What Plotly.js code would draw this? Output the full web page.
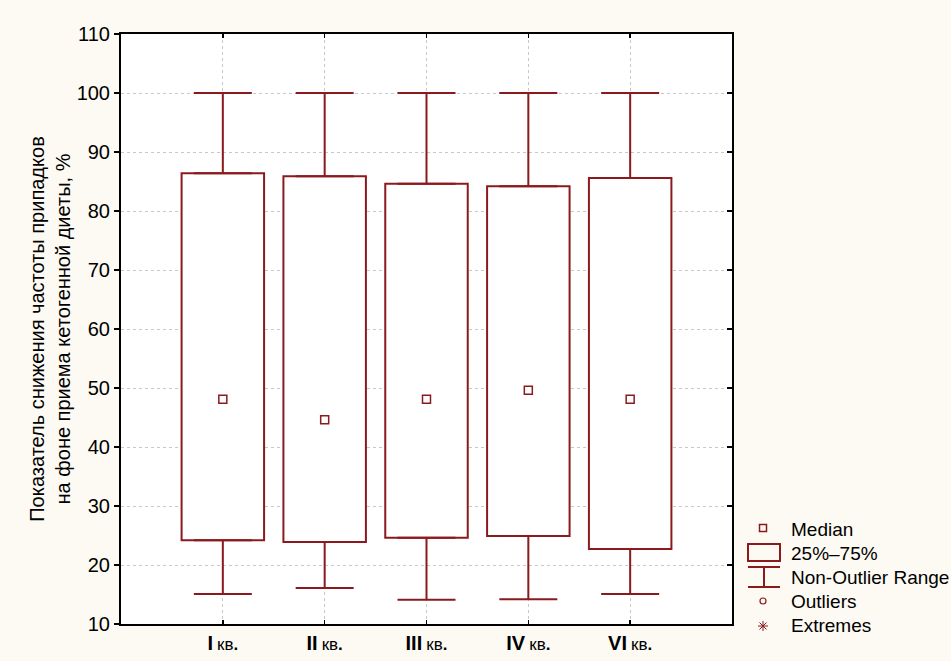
<!DOCTYPE html>
<html>
<head>
<meta charset="utf-8">
<script src="https://cdn.plot.ly/plotly-3.0.1.min.js"></script>
<style>html,body{margin:0;padding:0;background:#fcfaf2;}</style>
</head>
<body>
<div id="chart" style="width:951px;height:661px;"></div>
<script>
// ---- data ----
const categories = ["I кв.", "II кв.", "III кв.", "IV кв.", "VI кв."];
const romanLabels = ["I", "II", "III", "IV", "VI"];
const upperWhisker = [100, 100, 100, 100, 100];
const q3Values = [86.4, 85.9, 84.6, 84.2, 85.6];
const medianValues = [48.1, 44.6, 48.1, 49.6, 48.1];
const q1Values = [24.2, 23.9, 24.6, 24.9, 22.7];
const lowerWhisker = [15.1, 16.1, 14.1, 14.2, 15.1];
const legendLabels = ["Median", "25%–75%", "Non-Outlier Range", "Outliers", "Extremes"];

const RED = "#8b1a1e";
const FONT = "Liberation Sans, Arial, sans-serif";

const tickText = romanLabels.map(r => "<b>" + r + "</b>\u2009<span style='font-size:17px'>кв<b>.</b></span>");

const traces = [
  {
    type: "bar", x: categories, base: q1Values,
    y: q3Values.map((v, i) => v - q1Values[i]),
    width: 0.81,
    marker: {color: "#ffffff", line: {color: RED, width: 2}},
    hoverinfo: "skip", showlegend: false
  },
  {
    type: "scatter", mode: "markers", x: categories, y: q3Values,
    marker: {size: 0.1, opacity: 0},
    error_y: {type: "data", symmetric: false,
      array: upperWhisker.map((v, i) => v - q3Values[i]),
      arrayminus: q3Values.map(() => 0),
      width: 29, thickness: 2, color: RED},
    showlegend: false, hoverinfo: "skip"
  },
  {
    type: "scatter", mode: "markers", x: categories, y: q1Values,
    marker: {size: 0.1, opacity: 0},
    error_y: {type: "data", symmetric: false,
      array: q1Values.map(() => 0),
      arrayminus: q1Values.map((v, i) => v - lowerWhisker[i]),
      width: 29, thickness: 2, color: RED},
    showlegend: false, hoverinfo: "skip"
  },
  {
    type: "scatter", mode: "markers", x: categories, y: medianValues,
    marker: {symbol: "square-open", size: 8, color: RED, line: {width: 1.5, color: RED}},
    showlegend: false
  },
  {
    type: "scatter", mode: "markers", x: [], y: [], yaxis: "y2", showlegend: false
  }
];

// pixel -> paper helpers for the legend decoration
const L = 121, R = 732, T = 34, B = 624;
const PX = p => (p - L) / (R - L);
const PY = p => (B - p) / (B - T);

const shapes = [];
function line(x0, y0, x1, y1, w) {
  shapes.push({type: "line", xref: "paper", yref: "paper",
    x0: PX(x0), y0: PY(y0), x1: PX(x1), y1: PY(y1),
    line: {color: RED, width: w}});
}
// median symbol
shapes.push({type: "rect", xref: "paper", yref: "paper",
  x0: PX(759.5), x1: PX(766.5), y0: PY(524.5), y1: PY(531.5),
  line: {color: RED, width: 1.5}});
// box symbol
shapes.push({type: "rect", xref: "paper", yref: "paper",
  x0: PX(748), x1: PX(780), y0: PY(544), y1: PY(561),
  line: {color: RED, width: 2}});
// whisker symbol
line(748, 567, 780, 567, 2);
line(764, 567, 764, 587, 2);
line(748, 587, 780, 587, 2);
// outlier circle
shapes.push({type: "circle", xref: "paper", yref: "paper",
  x0: PX(760), x1: PX(766), y0: PY(598), y1: PY(604),
  line: {color: RED, width: 1.2}});
// extremes asterisk
line(763, 621, 763, 631, 1);
line(758, 626, 768, 626, 1);
line(759.5, 622.5, 766.5, 629.5, 1);
line(759.5, 629.5, 766.5, 622.5, 1);

const legendY = [529, 553, 577, 601, 625];
const annotations = legendLabels.map((t, i) => ({
  text: t, xref: "paper", yref: "paper", x: PX(789), y: PY(legendY[i]),
  xanchor: "left", yanchor: "middle", showarrow: false,
  font: {family: FONT, size: 19, color: "#000"}
}));

const layout = {
  width: 951, height: 661,
  margin: {l: L, r: 951 - R, t: T, b: 661 - B, pad: 0},
  paper_bgcolor: "#fcfaf2", plot_bgcolor: "#ffffff",
  font: {family: FONT, color: "#000"},
  showlegend: false,
  xaxis: {
    type: "category", range: [-1, 5],
    tickvals: categories, ticktext: tickText,
    tickfont: {family: FONT, size: 20, color: "#000"},
    ticks: "inside", ticklen: 4, tickcolor: "#000", tickwidth: 1.5,
    showline: true, linecolor: "#000", linewidth: 2, mirror: "ticks",
    showgrid: true, gridcolor: "#c8c8c8", griddash: "dot", gridwidth: 1,
    zeroline: false, fixedrange: true
  },
  yaxis: {
    range: [10, 110], tickvals: [10,20,30,40,50,60,70,80,90,100,110],
    tickfont: {family: FONT, size: 20, color: "#000"},
    ticks: "outside", ticklen: 5, tickcolor: "#000", tickwidth: 1.5,
    showline: true, linecolor: "#000", linewidth: 2, mirror: true,
    showgrid: true, gridcolor: "#c8c8c8", griddash: "dot", gridwidth: 1,
    zeroline: false, fixedrange: true,
    title: {text: "Показатель снижения частоты припадков<br>на фоне приема кетогенной диеты, %",
      font: {family: FONT, size: 20, color: "#000"}, standoff: 1}
  },
  yaxis2: {
    overlaying: "y", side: "right", range: [10, 110],
    tickvals: [10,20,30,40,50,60,70,80,90,100,110],
    showticklabels: false, ticks: "inside", ticklen: 5, tickcolor: "#000", tickwidth: 1.5,
    showgrid: false, zeroline: false, showline: false, fixedrange: true
  },
  shapes: shapes,
  annotations: annotations,
  bargap: 0
};

Plotly.newPlot("chart", traces, layout, {displayModeBar: false, staticPlot: true});
</script>
</body>
</html>
